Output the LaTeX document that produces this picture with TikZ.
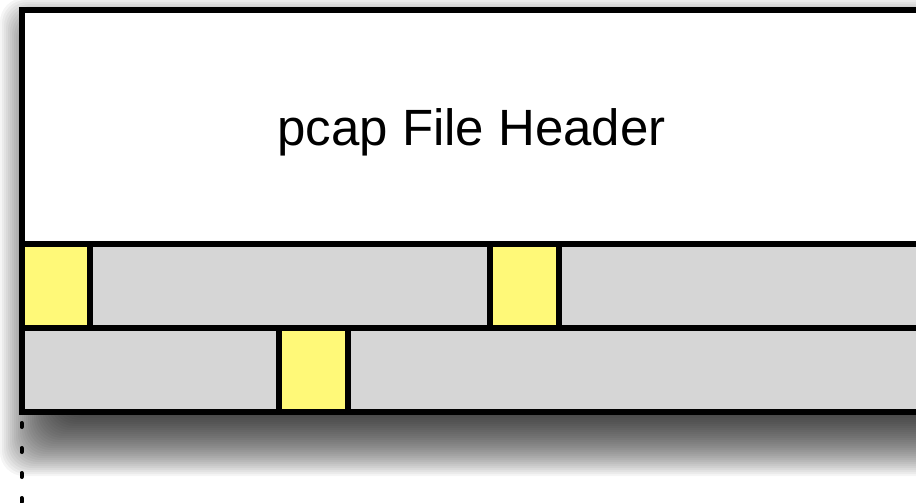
\documentclass[tikz,border=0pt]{standalone}
\usepackage{fontspec}
\setmainfont{Liberation Sans}
\usetikzlibrary{positioning}
\definecolor{cellgray}{RGB}{214,214,214}
\definecolor{cellyellow}{RGB}{255,249,120}

\begin{document}
\begin{tikzpicture}[x=1pt,y=-1pt,node distance=0pt,
  frame/.style={fill=white,draw,line width=5.5pt,anchor=north west,inner sep=0pt,outer sep=0pt},
  cell/.style={draw,line width=5.5pt,anchor=north west,minimum height=84pt,inner sep=0pt,outer sep=0pt},
  gap/.style={cell,fill=cellgray},
  rechdr/.style={cell,fill=cellyellow,minimum width=69pt},
  softshade/.style={fill=black,fill opacity=0.04,rounded corners=24pt},
  tail/.style={line width=4pt,line cap=round,dash pattern=on 4pt off 21pt}]

  \useasboundingbox (0,0) rectangle (916,503);
  \clip (0,0) rectangle (916,503);

  % soft shadow under the whole file
  \foreach \i in {0,...,39}
    \fill[softshade] (0+2*\i,-2+2*\i) rectangle (990,476-2*\i);

  \node[frame,minimum width=899pt,minimum height=234pt,text depth=0pt,
    font=\fontsize{51}{60}\selectfont] (header) at (22,10) {pcap File Header};

  % first row of records
  \node[rechdr,minimum width=68pt] (r1a) at (header.south west) {};
  \node[gap,minimum width=400pt] (r1b) [right=of r1a] {};
  \node[rechdr] (r1c) [right=of r1b] {};
  \node[gap,minimum width=362pt] (r1d) [right=of r1c] {};

  % second row of records
  \node[gap,minimum width=257pt] (r2a) at (r1a.south west) {};
  \node[rechdr] (r2b) [right=of r2a] {};
  \node[gap,minimum width=573pt] (r2c) [right=of r2b] {};

  \coordinate (tailtop) at ([xshift=-0.5pt,yshift=-11pt]r2a.south west);
  \coordinate (tailend) at ([xshift=-0.5pt,yshift=-110pt]r2a.south west);
  \draw[tail] (tailtop) -- (tailend);
\end{tikzpicture}
\end{document}
